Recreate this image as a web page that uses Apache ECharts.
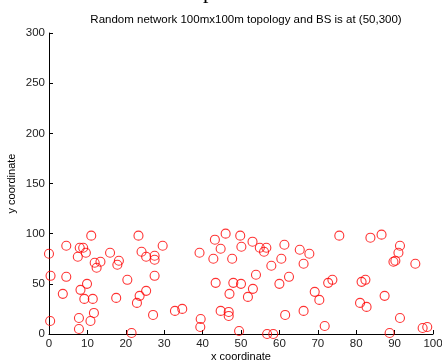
<!DOCTYPE html>
<html>
<head>
<meta charset="utf-8">
<script src="https://cdn.jsdelivr.net/npm/echarts@6/dist/echarts.min.js"></script>
<style>
  html, body { margin: 0; padding: 0; background: #fff; }
  #chart { width: 442px; height: 363px; }
</style>
</head>
<body>
<div id="chart"></div>
<script>
// node positions (x, y) in metres
const nodesX = [
  0, 0.4, 0.3, 4.5, 4.5, 3.6, 7.5, 8, 8.9, 9.6, 11, 11.9, 12.4, 13.4, 15.9, 17.8, 18.2, 9.9, 8.2, 9.2,
  11.4, 11.7, 10.8, 7.8, 7.8, 17.5, 20.4, 21.5, 23.3, 24.1, 25.3, 27.5, 27.5, 27.5, 29.6, 25.3, 23.6, 22.9, 27.1,
  39.2, 43.2, 46, 49.8, 44.7, 42.8, 47.7, 50.1, 53, 54.9, 56.6, 56, 57.9, 53.9, 43.4, 48, 50, 53.1, 47, 51.8,
  32.8, 34.7, 39.5, 39.4, 44.7, 46.8, 46.8, 49.5, 56.8, 58.4,
  61.3, 60.5, 60, 62.5, 61.5, 65.3, 67.8, 66.3, 66.3, 69.2, 70.4, 71.8,
  75.6, 83.7, 86.6, 91.4, 91, 89.7, 90.2, 95.4, 72.7, 73.8, 81.4, 82.4, 81, 82.7, 87.4, 91.4, 88.7, 97.3, 98.5
];
const nodesY = [
  80, 58, 13, 88, 57, 40, 77, 86, 86, 81, 98, 71, 66, 72, 81, 69, 73, 50, 44, 35,
  35, 21, 13, 16, 5, 36, 54, 1, 98, 82, 77, 78, 74, 58, 88, 43, 38, 31, 19,
  81, 94, 100, 98, 85, 75, 75, 87, 92, 86, 86, 82, 68, 59, 51, 51, 50, 45, 40, 37,
  23, 25, 15, 7, 23, 22, 18, 3, 0, 0,
  89, 75, 50, 57, 19, 84, 80, 70, 23, 42, 34, 8,
  98, 96, 99, 88, 81, 72, 73, 70, 51, 54, 52, 54, 31, 27, 38, 16, 1, 6, 7
];
const xTicks = { min: 0, max: 100, step: 10 };
const yTicks = { min: 0, max: 300, step: 50 };

const chart = echarts.init(document.getElementById('chart'));
const font = 'Liberation Sans, Arial, sans-serif';

const axisCommon = {
  type: 'value',
  nameLocation: 'middle',
  nameMoveOverlap: false,
  nameTextStyle: { color: '#000', fontSize: 11, fontFamily: font },
  axisLine: { show: true, lineStyle: { color: '#000', width: 1 } },
  axisTick: { show: true, inside: true, length: 4, lineStyle: { color: '#000' } },
  axisLabel: { color: '#222', fontSize: 11.5, fontFamily: font, margin: 4 },
  splitLine: { show: false }
};

chart.setOption({
  animation: false,
  title: {
    text: 'Random network 100mx100m topology and BS is at (50,300)',
    left: 241,
    textAlign: 'center',
    top: 9,
    textStyle: { fontSize: 11.5, fontWeight: 'normal', color: '#000', fontFamily: font }
  },
  graphic: [{
    type: 'text',
    left: 203,
    top: -19,
    style: { text: 'p', fontSize: 22, fontFamily: 'Liberation Serif, serif', fill: '#000' }
  }],
  grid: { left: 49, right: 9, top: 33, bottom: 29, outerBoundsMode: 'none' },
  xAxis: Object.assign({}, axisCommon, {
    name: 'x coordinate', nameGap: 17,
    min: xTicks.min, max: xTicks.max, interval: xTicks.step
  }),
  yAxis: Object.assign({}, axisCommon, {
    name: 'y coordinate', nameGap: 32,
    min: yTicks.min, max: yTicks.max, interval: yTicks.step
  }),
  series: [{
    type: 'scatter',
    symbol: 'circle',
    symbolSize: 9,
    data: nodesX.map((x, i) => [x, nodesY[i]]),
    itemStyle: { color: 'rgba(0,0,0,0)', borderColor: '#ff0000', borderWidth: 1.1 }
  }]
});
</script>
</body>
</html>
